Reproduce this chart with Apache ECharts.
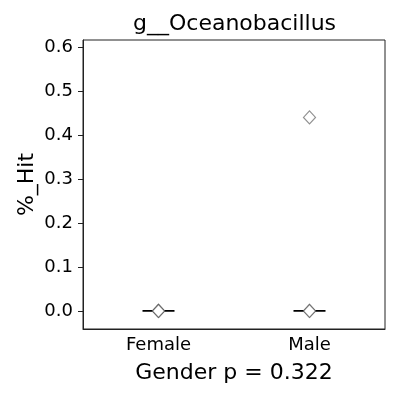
<!DOCTYPE html>
<html><head><meta charset="utf-8">
<script src="https://cdn.jsdelivr.net/npm/echarts@6/dist/echarts.min.js"></script>
<style>html,body{margin:0;padding:0;background:#fff}#c{width:400px;height:400px}</style>
</head><body><div id="c"></div>
<script>
const categories = ["Female", "Male"];
const boxStats = [[0,0,0,0,0],[0,0,0,0,0]];
const pointCats = ["Female", "Female", "Female", "Male", "Male", "Male"];
const pointVals = [0, 0, 0, 0, 0, 0.44];
const yTicks = [0, 0.1, 0.2, 0.3, 0.4, 0.5, 0.6];
const titleText = "g__Oceanobacillus";
const xName = "Gender p = 0.322";
const yName = "%_Hit";

const font = "DejaVu Sans";
const chart = echarts.init(document.getElementById('c'), null, {renderer:'canvas'});
chart.setOption({
  animation: false,
  title: {text: titleText, left: 133, top: 13, padding: 0,
    textStyle: {fontFamily: font, fontSize: 22, fontWeight: 'normal', color: '#000'}},
  grid: {left: 83, right: 15, top: 40, bottom: 71, show: true, borderColor: '#222', borderWidth: 1, backgroundColor: '#fff'},
  xAxis: {type: 'category', data: categories, boundaryGap: true,
    name: xName, nameLocation: 'middle', nameGap: 33, nameMoveOverlap: false,
    nameTextStyle: {fontFamily: font, fontSize: 22, color: '#000'},
    axisLine: {onZero: false, lineStyle: {color: '#222', width: 1}},
    axisTick: {alignWithLabel: true, length: 4, lineStyle: {color: '#222'}},
    axisLabel: {fontFamily: font, fontSize: 18, color: '#000', margin: 7},
    splitLine: {show: false}},
  yAxis: {type: 'value', min: -0.041, max: 0.616,
    name: yName, nameLocation: 'middle', nameGap: 45, nameRotate: 90, nameMoveOverlap: false,
    nameTextStyle: {fontFamily: font, fontSize: 22, color: '#000'},
    axisLine: {show: true, lineStyle: {color: '#222', width: 1}},
    axisTick: {show: true, length: 5, customValues: yTicks, lineStyle: {color: '#222'}},
    axisLabel: {fontFamily: font, fontSize: 18, color: '#000', margin: 10, customValues: yTicks,
      formatter: v => v.toFixed(1)},
    splitLine: {show: false}},
  series: [
    {type: 'boxplot', data: boxStats, boxWidth: [32, 32],
      itemStyle: {color: 'transparent', borderColor: '#000', borderWidth: 1.8}},
    {type: 'scatter', data: pointCats.map((c, i) => [c, pointVals[i]]),
      symbol: 'diamond', symbolSize: [12, 13], z: 5,
      itemStyle: {color: '#fff', borderColor: 'rgba(70,70,70,0.6)', borderWidth: 1.2, opacity: 1}}
  ]
});
</script></body></html>
